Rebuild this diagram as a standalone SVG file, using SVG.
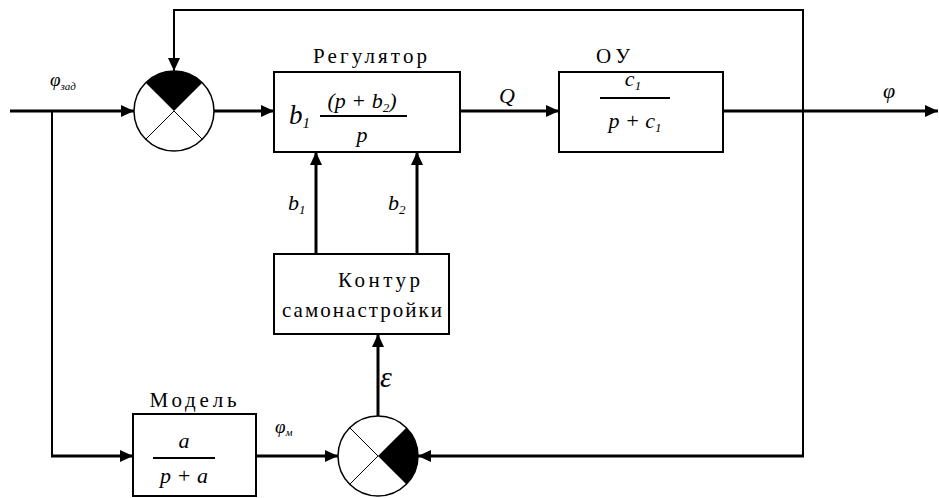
<svg xmlns="http://www.w3.org/2000/svg" width="939" height="498" viewBox="0 0 939 498">
<defs>
<marker id="ah" markerUnits="userSpaceOnUse" markerWidth="14" markerHeight="12" refX="13" refY="6" orient="auto">
<path d="M0,0 L13,6 L0,12 Z" fill="#000"/>
</marker>
<style>
.box{fill:#fff;stroke:#000;stroke-width:2}
.thick{fill:none;stroke:#000;stroke-width:3}
.thin{fill:none;stroke:#000;stroke-width:2}
.lbl{font-size:21px;fill:#000}
.m{font-style:italic;font-size:22px;fill:#000}
.sub{font-size:13px}
.frac{stroke:#000;stroke-width:2}
.sum{fill:#fff;stroke:#000;stroke-width:1.5}
.x{stroke:#000;stroke-width:1}
</style>
</defs>
<rect width="939" height="498" fill="#fff"/>

<g id="connectors" font-family="Liberation Serif, DejaVu Serif, Times New Roman, serif">
<line class="thick" x1="10" y1="111" x2="134" y2="111" marker-end="url(#ah)"/>
<polyline class="thin" points="803,111 803,10 174,10 174,71" marker-end="url(#ah)"/>
<line class="thick" x1="214" y1="111" x2="274" y2="111" marker-end="url(#ah)"/>
<line class="thick" x1="460" y1="111" x2="559" y2="111" marker-end="url(#ah)"/>
<line class="thick" x1="723" y1="111" x2="938" y2="111" marker-end="url(#ah)"/>
<line class="thin" x1="803" y1="111" x2="803" y2="456"/>
<line class="thick" x1="804" y1="456" x2="418" y2="456" marker-end="url(#ah)"/>
<polyline class="thin" points="52,111 52,456"/>
<line class="thick" x1="51" y1="456" x2="133" y2="456" marker-end="url(#ah)"/>
<line class="thick" x1="256" y1="456" x2="338" y2="456" marker-end="url(#ah)"/>
<line class="thick" x1="378" y1="416" x2="378" y2="334" marker-end="url(#ah)"/>
<line class="thick" x1="316" y1="254" x2="316" y2="152" marker-end="url(#ah)"/>
<line class="thick" x1="417" y1="254" x2="417" y2="152" marker-end="url(#ah)"/>
<text class="m" x="50" y="86" style="font-size:19px">φ<tspan class="sub" dy="4" style="font-size:11px">зад</tspan></text>
<text class="m" x="499" y="103">Q</text>
<text class="m" x="883" y="98">φ</text>
<text class="m" x="288" y="210">b<tspan class="sub" dy="4">1</tspan></text>
<text class="m" x="388" y="210">b<tspan class="sub" dy="4">2</tspan></text>
<text class="m" x="380" y="387" style="font-size:30px">ε</text>
<text class="m" x="275" y="433" style="font-size:19px">φ<tspan class="sub" dy="3" style="font-size:11px">м</tspan></text>
</g>

<g id="sum1">
<circle class="sum" cx="174" cy="111" r="40"/>
<path d="M174,111 L145.7,82.7 A40,40 0 0 1 202.3,82.7 Z" fill="#000"/>
<line class="x" x1="174" y1="111" x2="145.7" y2="139.3"/>
<line class="x" x1="174" y1="111" x2="202.3" y2="139.3"/>
</g>

<g id="regulator" font-family="Liberation Serif, DejaVu Serif, Times New Roman, serif">
<rect class="box" x="274" y="72" width="186" height="80"/>
<text class="lbl" x="370" y="63" text-anchor="middle" textLength="114" lengthAdjust="spacing">Регулятор</text>
<text class="m" x="289" y="124" style="font-size:27px">b<tspan class="sub" dy="4" style="font-size:15px">1</tspan></text>
<text class="m" x="362" y="108" text-anchor="middle">(p + b<tspan class="sub" dy="4">2</tspan><tspan dy="-4">)</tspan></text>
<line class="frac" x1="320" y1="116" x2="407" y2="116"/>
<text class="m" x="362" y="142" text-anchor="middle">p</text>
</g>

<g id="plant" font-family="Liberation Serif, DejaVu Serif, Times New Roman, serif">
<rect class="box" x="559" y="72" width="164" height="80"/>
<text class="lbl" x="613" y="63" text-anchor="middle" textLength="34" lengthAdjust="spacing">ОУ</text>
<text class="m" x="633" y="86" text-anchor="middle">c<tspan class="sub" dy="4">1</tspan></text>
<line class="frac" x1="600" y1="98" x2="670" y2="98"/>
<text class="m" x="635" y="128" text-anchor="middle">p + c<tspan class="sub" dy="4">1</tspan></text>
</g>

<g id="tuning" font-family="Liberation Serif, DejaVu Serif, Times New Roman, serif">
<rect class="box" x="274" y="254" width="175" height="80"/>
<text class="lbl" x="379" y="287" text-anchor="middle" textLength="82" lengthAdjust="spacing">Контур</text>
<text class="lbl" x="362" y="317" text-anchor="middle" textLength="160" lengthAdjust="spacing">самонастройки</text>
</g>

<g id="model" font-family="Liberation Serif, DejaVu Serif, Times New Roman, serif">
<rect class="box" x="133" y="414" width="123" height="82"/>
<text class="lbl" x="193" y="407" text-anchor="middle" textLength="87" lengthAdjust="spacing">Модель</text>
<text class="m" x="184" y="448" text-anchor="middle">a</text>
<line class="frac" x1="153" y1="458" x2="215" y2="458"/>
<text class="m" x="184" y="483" text-anchor="middle">p + a</text>
</g>

<g id="sum2">
<circle class="sum" cx="378" cy="456" r="40"/>
<path d="M378,456 L406.3,427.7 A40,40 0 0 1 406.3,484.3 Z" fill="#000"/>
<line class="x" x1="378" y1="456" x2="349.7" y2="427.7"/>
<line class="x" x1="378" y1="456" x2="349.7" y2="484.3"/>
</g>
</svg>
